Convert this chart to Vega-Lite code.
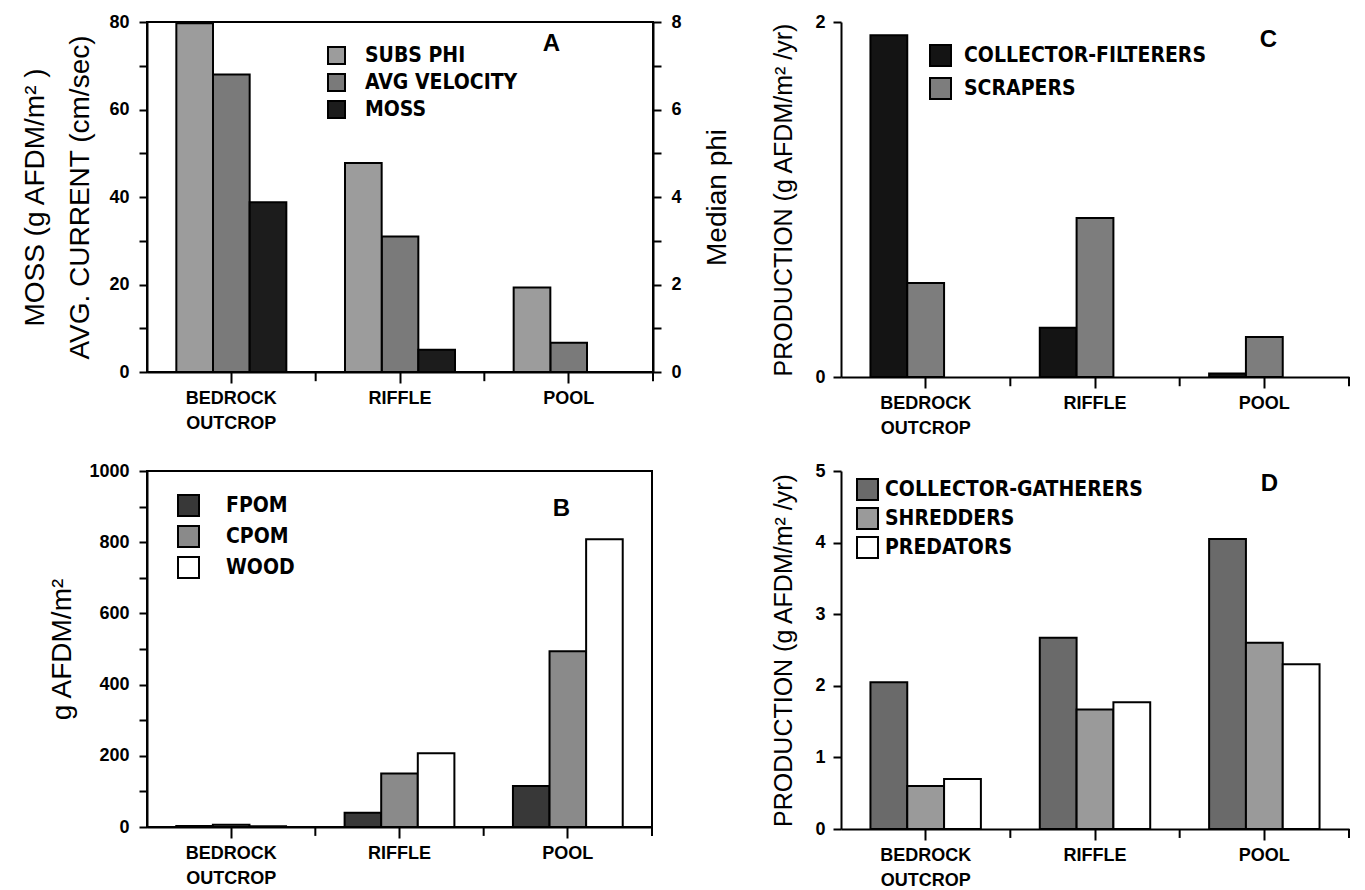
{
  "$schema": "https://vega.github.io/schema/vega-lite/v6.json",
  "background": "white",
  "padding": {"left": 20, "top": 12, "right": 5, "bottom": 5},
  "columns": 2,
  "spacing": {"column": 38, "row": 24},
  "resolve": {"scale": {"color": "independent", "xOffset": "independent", "x": "independent", "y": "independent"}, "legend": {"color": "independent"}},
  "config": {
    "view": {"stroke": null},
    "font": "Liberation Sans",
    "axis": {
      "domainColor": "#000", "domainWidth": 2, "tickColor": "#000", "tickWidth": 2,
      "labelColor": "#000", "labelFont": "Liberation Sans", "labelFontWeight": "bold", "labelFontSize": 18,
      "titleColor": "#000", "titleFont": "Liberation Sans", "titleFontWeight": "normal", "titleFontSize": 28,
      "grid": false, "labelOverlap": false
    },
    "legend": {
      "orient": "none", "title": null, "symbolType": "square", "symbolStrokeColor": "#000", "symbolStrokeWidth": 2,
      "labelFont": "Liberation Sans Narrow, DejaVu Sans Condensed, sans-serif", "labelFontWeight": "bold",
      "labelFontSize": 21, "labelColor": "#000", "padding": 0, "symbolOpacity": 1, "labelLimit": 0
    },
    "title": {"font": "Liberation Sans", "fontWeight": "bold", "fontSize": 24, "color": "#000", "anchor": "end", "baseline": "top", "offset": 0}
  },
  "datasets": {
    "a": [
      {"site": "BEDROCK OUTCROP", "series": "SUBS PHI", "value": 7.97},
      {"site": "BEDROCK OUTCROP", "series": "AVG VELOCITY", "value": 68},
      {"site": "BEDROCK OUTCROP", "series": "MOSS", "value": 38.8},
      {"site": "RIFFLE", "series": "SUBS PHI", "value": 4.78},
      {"site": "RIFFLE", "series": "AVG VELOCITY", "value": 31},
      {"site": "RIFFLE", "series": "MOSS", "value": 5.1},
      {"site": "POOL", "series": "SUBS PHI", "value": 1.93},
      {"site": "POOL", "series": "AVG VELOCITY", "value": 6.7},
      {"site": "POOL", "series": "MOSS", "value": 0}
    ],
    "b": [
      {"site": "BEDROCK OUTCROP", "series": "FPOM", "value": 3},
      {"site": "BEDROCK OUTCROP", "series": "CPOM", "value": 6},
      {"site": "BEDROCK OUTCROP", "series": "WOOD", "value": 2},
      {"site": "RIFFLE", "series": "FPOM", "value": 40},
      {"site": "RIFFLE", "series": "CPOM", "value": 150},
      {"site": "RIFFLE", "series": "WOOD", "value": 207},
      {"site": "POOL", "series": "FPOM", "value": 115},
      {"site": "POOL", "series": "CPOM", "value": 494},
      {"site": "POOL", "series": "WOOD", "value": 808}
    ],
    "c": [
      {"site": "BEDROCK OUTCROP", "series": "COLLECTOR-FILTERERS", "value": 1.925},
      {"site": "BEDROCK OUTCROP", "series": "SCRAPERS", "value": 0.53},
      {"site": "RIFFLE", "series": "COLLECTOR-FILTERERS", "value": 0.277},
      {"site": "RIFFLE", "series": "SCRAPERS", "value": 0.896},
      {"site": "POOL", "series": "COLLECTOR-FILTERERS", "value": 0.02},
      {"site": "POOL", "series": "SCRAPERS", "value": 0.226}
    ],
    "d": [
      {"site": "BEDROCK OUTCROP", "series": "COLLECTOR-GATHERERS", "value": 2.05},
      {"site": "BEDROCK OUTCROP", "series": "SHREDDERS", "value": 0.6},
      {"site": "BEDROCK OUTCROP", "series": "PREDATORS", "value": 0.7},
      {"site": "RIFFLE", "series": "COLLECTOR-GATHERERS", "value": 2.67},
      {"site": "RIFFLE", "series": "SHREDDERS", "value": 1.67},
      {"site": "RIFFLE", "series": "PREDATORS", "value": 1.77},
      {"site": "POOL", "series": "COLLECTOR-GATHERERS", "value": 4.05},
      {"site": "POOL", "series": "SHREDDERS", "value": 2.6},
      {"site": "POOL", "series": "PREDATORS", "value": 2.3}
    ]
  },
  "concat": [
    {
      "width": 506, "height": 350,
      "view": {"stroke": "#000", "strokeWidth": 2},
      "title": {"text": "A", "dx": -171, "dy": 47},
      "data": {"name": "a"},
      "layer": [
        {
          "transform": [{"filter": "datum.series !== 'SUBS PHI'"}],
          "mark": {"type": "bar", "stroke": "#000", "strokeWidth": 2},
          "encoding": {
            "x": {"field": "site", "type": "nominal", "sort": null,
              "scale": {"domain": ["BEDROCK OUTCROP", "RIFFLE", "POOL"], "paddingInner": 0, "paddingOuter": 0},
              "axis": {"title": null, "labelExpr": "split(datum.label, ' ')", "labelLineHeight": 25, "tickSize": 11, "labelPadding": 6, "labelAngle": 0}},
            "xOffset": {"field": "series", "scale": {"domain": ["SUBS PHI", "AVG VELOCITY", "MOSS"], "paddingInner": 0, "paddingOuter": 0.8}},
            "y": {"field": "value", "type": "quantitative",
              "scale": {"domain": [0, 80], "nice": false},
              "axis": {"values": [0, 10, 20, 30, 40, 50, 60, 70, 80], "labelExpr": "datum.value % 20 === 0 ? datum.label : ''",
                "tickSize": 8, "labelPadding": 10, "title": ["MOSS (g AFDM/m² )", "AVG. CURRENT (cm/sec)"], "titleLineHeight": 45, "titlePadding": 14}},
            "color": {"field": "series", "type": "nominal",
              "scale": {"domain": ["SUBS PHI", "AVG VELOCITY", "MOSS"], "range": ["#9c9c9c", "#7a7a7a", "#1c1c1c"]},
              "legend": {"legendX": 179, "legendY": 23, "symbolSize": 289, "rowPadding": 2, "labelOffset": 18}}
          }
        },
        {
          "transform": [{"filter": "datum.series === 'SUBS PHI'"}],
          "mark": {"type": "bar", "stroke": "#000", "strokeWidth": 2},
          "encoding": {
            "x": {"field": "site", "type": "nominal", "sort": null,
              "scale": {"domain": ["BEDROCK OUTCROP", "RIFFLE", "POOL"]}, "axis": null},
            "xOffset": {"field": "series", "scale": {"domain": ["SUBS PHI", "AVG VELOCITY", "MOSS"]}},
            "y": {"field": "value", "type": "quantitative",
              "scale": {"domain": [0, 8], "nice": false},
              "axis": {"orient": "right", "values": [0, 1, 2, 3, 4, 5, 6, 7, 8], "labelExpr": "datum.value % 2 === 0 ? datum.label : ''",
                "tickSize": 8, "labelPadding": 10, "title": "Median phi", "titleAngle": 270, "titleBaseline": "top", "titlePadding": 22}},
            "color": {"field": "series", "type": "nominal",
              "scale": {"domain": ["SUBS PHI", "AVG VELOCITY", "MOSS"], "range": ["#9c9c9c", "#7a7a7a", "#1c1c1c"]}}
          }
        },
        {
          "transform": [{"filter": "datum.series === 'MOSS'"}],
          "mark": {"type": "rule", "stroke": "#000", "strokeWidth": 2},
          "encoding": {
            "x": {"field": "site", "type": "nominal", "sort": null, "bandPosition": 1,
              "scale": {"type": "band", "domain": ["BEDROCK OUTCROP", "RIFFLE", "POOL"]}, "axis": null},
            "y": {"datum": 0, "scale": {"domain": [0, 80], "nice": false}, "axis": null},
            "y2": {"datum": -2.1}
          }
        }
      ],
      "resolve": {"scale": {"y": "independent"}, "axis": {"x": "independent"}}
    },
    {
      "width": 508, "height": 355,
      "title": {"text": "C", "dx": -73, "dy": 43},
      "data": {"name": "c"},
      "layer": [
        {
          "mark": {"type": "bar", "stroke": "#000", "strokeWidth": 2},
          "encoding": {
            "x": {"field": "site", "type": "nominal", "sort": null,
              "scale": {"domain": ["BEDROCK OUTCROP", "RIFFLE", "POOL"], "paddingInner": 0, "paddingOuter": 0},
              "axis": {"title": null, "labelExpr": "split(datum.label, ' ')", "labelLineHeight": 25, "tickSize": 11, "labelPadding": 6, "labelAngle": 0}},
            "xOffset": {"field": "series", "scale": {"domain": ["COLLECTOR-FILTERERS", "SCRAPERS", "NONE"], "paddingInner": 0, "paddingOuter": 0.8}},
            "y": {"field": "value", "type": "quantitative",
              "scale": {"domain": [0, 2], "nice": false},
              "axis": {"values": [0, 0.25, 0.5, 0.75, 1, 1.25, 1.5, 1.75, 2], "format": "d", "labelExpr": "datum.value % 1 === 0 ? datum.label : ''",
                "tickSize": 8, "labelPadding": 8, "title": "PRODUCTION (g AFDM/m² /yr)", "titleFontSize": 25, "titlePadding": 18}},
            "color": {"field": "series", "type": "nominal",
              "scale": {"domain": ["COLLECTOR-FILTERERS", "SCRAPERS"], "range": ["#141414", "#7d7d7d"]},
              "legend": {"legendX": 88, "legendY": 22, "symbolSize": 441, "rowPadding": 4, "labelOffset": 12}}
          }
        },
        {
          "transform": [{"filter": "datum.series === 'SCRAPERS'"}],
          "mark": {"type": "rule", "stroke": "#000", "strokeWidth": 2},
          "encoding": {
            "x": {"field": "site", "type": "nominal", "sort": null, "bandPosition": 1,
              "scale": {"type": "band", "domain": ["BEDROCK OUTCROP", "RIFFLE", "POOL"]}, "axis": null},
            "y": {"datum": 0, "scale": {"domain": [0, 2], "nice": false}, "axis": null},
            "y2": {"datum": -0.052}
          }
        }
      ],
      "resolve": {"axis": {"x": "independent", "y": "independent"}}
    },
    {
      "width": 505, "height": 356,
      "view": {"stroke": "#000", "strokeWidth": 2},
      "title": {"text": "B", "dx": -83, "dy": 63},
      "data": {"name": "b"},
      "layer": [
        {
          "mark": {"type": "bar", "stroke": "#000", "strokeWidth": 2},
          "encoding": {
            "x": {"field": "site", "type": "nominal", "sort": null,
              "scale": {"domain": ["BEDROCK OUTCROP", "RIFFLE", "POOL"], "paddingInner": 0, "paddingOuter": 0},
              "axis": {"title": null, "labelExpr": "split(datum.label, ' ')", "labelLineHeight": 25, "tickSize": 11, "labelPadding": 6, "labelAngle": 0}},
            "xOffset": {"field": "series", "scale": {"domain": ["FPOM", "CPOM", "WOOD"], "paddingInner": 0, "paddingOuter": 0.8}},
            "y": {"field": "value", "type": "quantitative",
              "scale": {"domain": [0, 1000], "nice": false},
              "axis": {"values": [0, 100, 200, 300, 400, 500, 600, 700, 800, 900, 1000], "format": "d", "labelExpr": "datum.value % 200 === 0 ? datum.label : ''",
                "tickSize": 8, "labelPadding": 10, "title": "g AFDM/m²", "titlePadding": 12}},
            "color": {"field": "series", "type": "nominal",
              "scale": {"domain": ["FPOM", "CPOM", "WOOD"], "range": ["#383838", "#8a8a8a", "#ffffff"]},
              "legend": {"legendX": 30, "legendY": 23, "symbolSize": 441, "rowPadding": 2, "labelOffset": 26}}
          }
        },
        {
          "transform": [{"filter": "datum.series === 'WOOD'"}],
          "mark": {"type": "rule", "stroke": "#000", "strokeWidth": 2},
          "encoding": {
            "x": {"field": "site", "type": "nominal", "sort": null, "bandPosition": 1,
              "scale": {"type": "band", "domain": ["BEDROCK OUTCROP", "RIFFLE", "POOL"]}, "axis": null},
            "y": {"datum": 0, "scale": {"domain": [0, 1000], "nice": false}, "axis": null},
            "y2": {"datum": -25}
          }
        }
      ],
      "resolve": {"axis": {"x": "independent", "y": "independent"}}
    },
    {
      "width": 508, "height": 358,
      "title": {"text": "D", "dx": -72, "dy": 38},
      "data": {"name": "d"},
      "layer": [
        {
          "mark": {"type": "bar", "stroke": "#000", "strokeWidth": 2},
          "encoding": {
            "x": {"field": "site", "type": "nominal", "sort": null,
              "scale": {"domain": ["BEDROCK OUTCROP", "RIFFLE", "POOL"], "paddingInner": 0, "paddingOuter": 0},
              "axis": {"title": null, "labelExpr": "split(datum.label, ' ')", "labelLineHeight": 25, "tickSize": 11, "labelPadding": 6, "labelAngle": 0}},
            "xOffset": {"field": "series", "scale": {"domain": ["COLLECTOR-GATHERERS", "SHREDDERS", "PREDATORS"], "paddingInner": 0, "paddingOuter": 0.8}},
            "y": {"field": "value", "type": "quantitative",
              "scale": {"domain": [0, 5], "nice": false},
              "axis": {"values": [0, 0.5, 1, 1.5, 2, 2.5, 3, 3.5, 4, 4.5, 5], "format": "d", "labelExpr": "datum.value % 1 === 0 ? datum.label : ''",
                "tickSize": 8, "labelPadding": 8, "title": "PRODUCTION (g AFDM/m² /yr)", "titleFontSize": 25, "titlePadding": 18}},
            "color": {"field": "series", "type": "nominal",
              "scale": {"domain": ["COLLECTOR-GATHERERS", "SHREDDERS", "PREDATORS"], "range": ["#6a6a6a", "#9a9a9a", "#ffffff"]},
              "legend": {"legendX": 15, "legendY": 7, "symbolSize": 441, "rowPadding": 0, "labelOffset": 6}}
          }
        },
        {
          "transform": [{"filter": "datum.series === 'PREDATORS'"}],
          "mark": {"type": "rule", "stroke": "#000", "strokeWidth": 2},
          "encoding": {
            "x": {"field": "site", "type": "nominal", "sort": null, "bandPosition": 1,
              "scale": {"type": "band", "domain": ["BEDROCK OUTCROP", "RIFFLE", "POOL"]}, "axis": null},
            "y": {"datum": 0, "scale": {"domain": [0, 5], "nice": false}, "axis": null},
            "y2": {"datum": -0.125}
          }
        }
      ],
      "resolve": {"axis": {"x": "independent", "y": "independent"}}
    }
  ]
}
